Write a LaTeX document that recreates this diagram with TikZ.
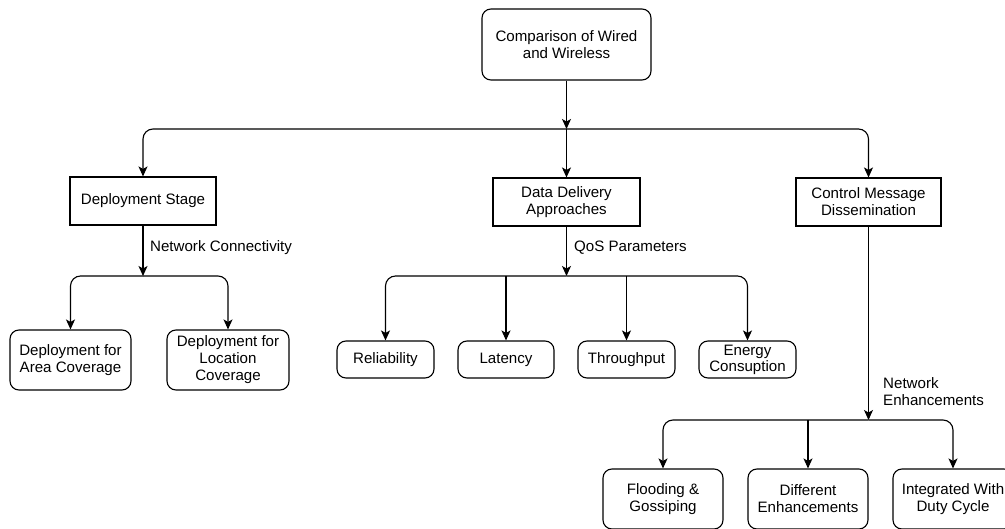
\documentclass[tikz,border=0pt]{standalone}
\usepackage{fontspec}
\setmainfont{Liberation Sans}
\usetikzlibrary{arrows.meta}
\begin{document}
\begin{tikzpicture}[x=1pt,y=-1pt,
  font=\fontsize{15.1}{17}\selectfont,
  box/.style={draw, line width=1.1pt, align=center, inner sep=0pt},
  rbox/.style={box, rounded corners=9pt},
  arr/.style={-{Stealth[length=10pt,width=9pt,inset=2.5pt]}, line width=1.1pt},
  link/.style={arr, rounded corners=10pt},
  lbl/.style={anchor=west, inner sep=0pt, align=left}]
\useasboundingbox (0,0) rectangle (1005,529);
\clip (0,0) rectangle (1005,529);

% root
\node[rbox, minimum width=169pt, minimum height=71pt] (top) at (566.5,44.5) {Comparison of Wired\\and Wireless};

% second level
\node[box, minimum width=146pt, minimum height=48pt] (dep) at (143,201) {Deployment Stage};
\node[box, minimum width=147pt, minimum height=48pt] (dd) at (566.5,202) {Data Delivery\\Approaches};
\node[box, minimum width=145pt, minimum height=48pt] (cm) at (868.5,202) {Control Message\\Dissemination};

% deployment branch
\node[rbox, minimum width=121pt, minimum height=60pt] (area) at (70.5,360) {Deployment for\\Area Coverage};
\node[rbox, minimum width=122pt, minimum height=60pt] (loc) at (228,360) {Deployment for\\Location\\Coverage};

% QoS branch
\node[rbox, minimum width=97pt, minimum height=37pt] (rel) at (385.5,359.5) {Reliability};
\node[rbox, minimum width=96pt, minimum height=37pt] (lat) at (506,359.5) {Latency};
\node[rbox, minimum width=97pt, minimum height=37pt] (thr) at (626.5,359.5) {Throughput};
\node[rbox, minimum width=97pt, minimum height=37pt] (en) at (747.5,359.5) {Energy\\[-1pt]Consuption};

% enhancement branch
\node[rbox, minimum width=120pt, minimum height=60pt] (fl) at (663,499) {Flooding \&\\Gossiping};
\node[rbox, minimum width=120pt, minimum height=60pt] (diff) at (808,499) {Different\\Enhancements};
\node[rbox, minimum width=120pt, minimum height=60pt] (int) at (953,499) {Integrated With\\Duty Cycle};

% junction points
\coordinate (j1) at (566.5,129);
\coordinate (j2) at (143,276);
\coordinate (j3) at (566.5,276);
\coordinate (j4) at (868.5,420);

% edge labels
\node[lbl] (lnc) at (150,248) {Network Connectivity};
\node[lbl] (lqos) at (574,248) {QoS Parameters};
\node[lbl] (lne) at (883,391.5) {Network\\Enhancements};

% connectors
\draw[arr] (top.south) -- (j1);
\draw[link] (j1) -| (dep.north);
\draw[arr] (j1) -- (dd.north);
\draw[link] (j1) -| (cm.north);

\draw[arr] (dep.south) -- (j2);
\draw[link] (j2) -| (area.north);
\draw[link] (j2) -| (loc.north);

\draw[arr] (dd.south) -- (j3);
\draw[link] (j3) -| (rel.north);
\draw[arr] (j3 -| lat.north) -- (lat.north);
\draw[arr] (j3 -| thr.north) -- (thr.north);
\draw[link] (j3) -| (en.north);

\draw[arr] (cm.south) -- (j4);
\draw[link] (j4) -| (fl.north);
\draw[arr] (j4 -| diff.north) -- (diff.north);
\draw[link] (j4) -| (int.north);
\end{tikzpicture}
\end{document}
